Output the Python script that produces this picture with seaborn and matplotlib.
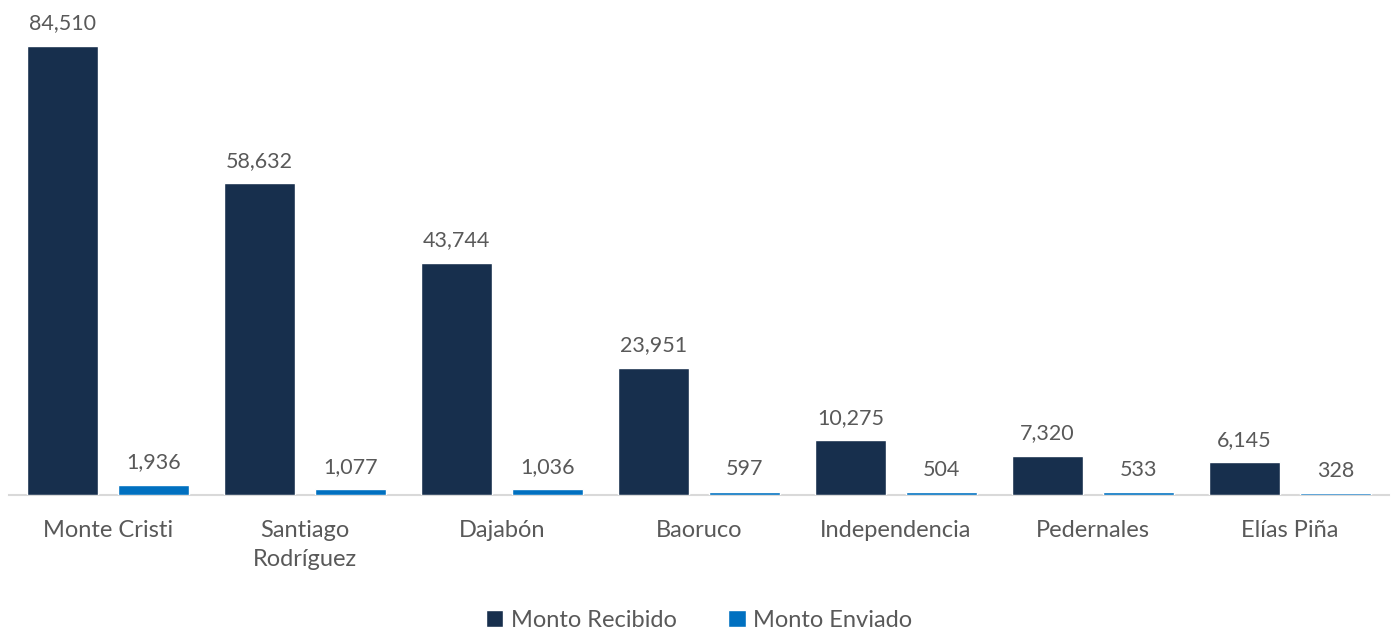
import matplotlib.pyplot as plt
import seaborn as sns
import pandas as pd

# Datos
provincias = ['Monte Cristi', 'Santiago\nRodríguez', 'Dajabón', 'Baoruco',
              'Independencia', 'Pedernales', 'Elías Piña']
monto_recibido = [84510, 58632, 43744, 23951, 10275, 7320, 6145]
monto_enviado = [1936, 1077, 1036, 597, 504, 533, 328]
series = ['Monto Recibido', 'Monto Enviado']
colores = ['#172F4D', '#0070C0']

df = pd.DataFrame({
    'provincia': provincias * 2,
    'monto': monto_recibido + monto_enviado,
    'serie': [series[0]] * len(provincias) + [series[1]] * len(provincias),
})

sns.set_style('white')
plt.rcParams['font.family'] = ['Lato', 'DejaVu Sans']
gris = '#595959'

fig = plt.figure(figsize=(13.92, 6.32), dpi=100)
ax = fig.add_axes([0.0068, 0.2168, 0.9907, 0.7734])

sns.barplot(data=df, x='provincia', y='monto', hue='serie', palette=colores,
            width=0.924, gap=0.22, ax=ax, saturation=1, zorder=3)

# Etiquetas de datos
for cont in ax.containers:
    ax.bar_label(cont, labels=[f'{v:,.0f}' for v in cont.datavalues],
                 padding=9, fontsize=15.5, color=gris)

ax.set_ylim(0, 92000)
ax.set_xlim(-0.5, len(provincias) - 0.5)
ax.set_xlabel('')
ax.set_ylabel('')
ax.set_yticks([])
ax.tick_params(axis='x', labelsize=17, labelcolor=gris, length=0, pad=18)
for lbl in ax.get_xticklabels():
    lbl.set_linespacing(1.45)
for s in ['top', 'right', 'left']:
    ax.spines[s].set_visible(False)
ax.spines['bottom'].set_color('#D9D9D9')
ax.spines['bottom'].set_linewidth(1.5)
ax.spines['bottom'].set_zorder(1)

# Leyenda
ax.legend(loc='center', bbox_to_anchor=(0.5, -0.256), ncol=2,
          frameon=False, fontsize=17, labelcolor=gris,
          handlelength=0.75, handleheight=0.75, handletextpad=0.3,
          columnspacing=2.2)

plt.savefig('out.png', dpi=100)
